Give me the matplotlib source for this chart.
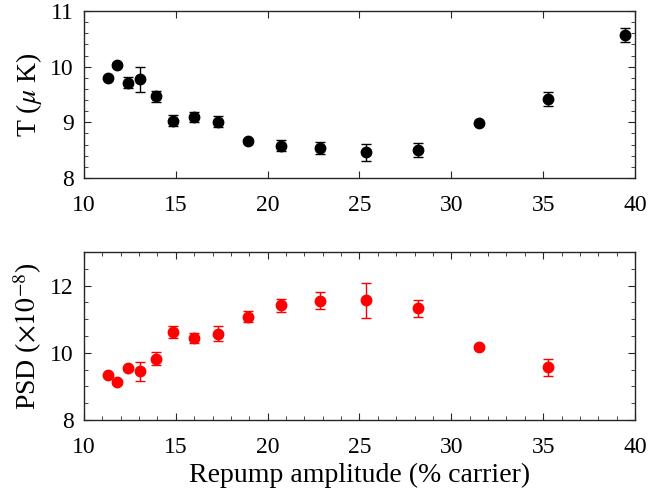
import matplotlib
matplotlib.use("Agg")
import matplotlib.pyplot as plt
from matplotlib.ticker import MultipleLocator

plt.rcParams['font.family'] = ['Liberation Serif', 'DejaVu Serif']
plt.rcParams['mathtext.fontset'] = 'stix'

# temperature data
x_T = [11.29, 11.80, 12.40, 13.05, 13.90, 14.84, 15.97, 17.31, 18.91, 20.72,
       22.87, 25.35, 28.2, 31.5, 35.24, 39.47]
T = [9.80, 10.03, 9.71, 9.77, 9.47, 9.03, 9.10, 9.01, 8.67, 8.58,
     8.54, 8.46, 8.50, 8.98, 9.42, 10.57]
T_err = [0.03, 0.03, 0.10, 0.23, 0.10, 0.10, 0.09, 0.10, 0.03, 0.10,
         0.10, 0.15, 0.12, 0.03, 0.13, 0.13]

# PSD data
x_P = [11.29, 11.80, 12.40, 13.05, 13.90, 14.84, 15.97, 17.31, 18.91, 20.72,
       22.87, 25.35, 28.2, 31.5, 35.24]
PSD = [9.35, 9.13, 9.54, 9.45, 9.83, 10.62, 10.45, 10.57, 11.07, 11.41,
       11.55, 11.56, 11.32, 10.17, 9.57]
PSD_err = [0.05, 0.05, 0.05, 0.28, 0.18, 0.19, 0.15, 0.23, 0.16, 0.20,
           0.26, 0.53, 0.24, 0.05, 0.25]

fig = plt.figure(figsize=(6.49, 4.95), dpi=100)
ax1 = fig.add_axes([0.1294, 0.6404, 0.849, 0.3374])
ax2 = fig.add_axes([0.1294, 0.1515, 0.849, 0.3394])

ax1.errorbar(x_T, T, yerr=T_err, fmt='o', color='k', ms=7.5, capsize=3.6, elinewidth=1, capthick=1)
ax2.errorbar(x_P, PSD, yerr=PSD_err, fmt='o', color='red', ms=7.5, capsize=3.6, elinewidth=1, capthick=1)

ax1.set_xlim(10, 40)
ax1.set_ylim(8, 11)
ax1.set_xticks([10, 15, 20, 25, 30, 35, 40])
ax1.set_yticks([8, 9, 10, 11])
ax1.yaxis.set_minor_locator(MultipleLocator(0.2))
ax1.set_ylabel(r'T ($\mu$ K)', fontsize=20, labelpad=4)

ax2.set_xlim(10, 40)
ax2.set_ylim(8, 13)
ax2.set_xticks([10, 15, 20, 25, 30, 35, 40])
ax2.set_yticks([8, 10, 12])
ax2.xaxis.set_minor_locator(MultipleLocator(1))
ax2.yaxis.set_minor_locator(MultipleLocator(0.5))
ax2.set_ylabel(r'PSD ($\times10^{-8}$)', fontsize=20, labelpad=4)
ax2.set_xlabel('Repump amplitude (% carrier)', fontsize=20, labelpad=4)

for ax in (ax1, ax2):
    ax.tick_params(which='both', direction='in', top=True, right=True, labelsize=17, color='#262626')
    ax.tick_params(which='major', length=5)
    ax.tick_params(axis='x', which='major', pad=12)
    ax.tick_params(axis='y', which='major', pad=7.5)
    ax.tick_params(which='minor', length=3)
    for s in ax.spines.values():
        s.set_color('#262626')
        s.set_linewidth(1)

fig.savefig('out.png', dpi=100)
